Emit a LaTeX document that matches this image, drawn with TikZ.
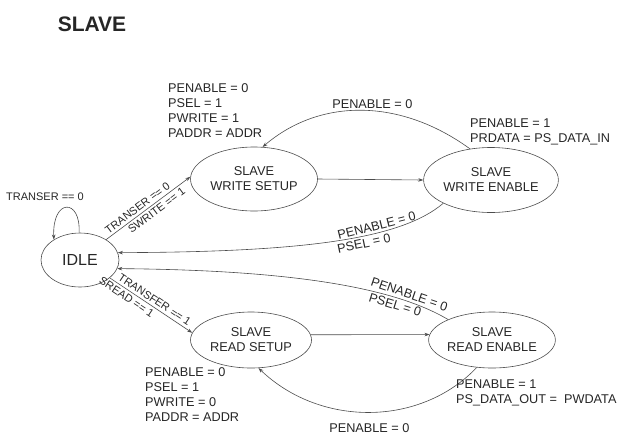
\documentclass[tikz,border=0pt]{standalone}
\usepackage{fontspec}
\setmainfont{Liberation Sans}
\usetikzlibrary{shapes.geometric,arrows.meta}
\definecolor{linec}{gray}{0.3}
\definecolor{txtc}{gray}{0.15}
\begin{document}
\begin{tikzpicture}[x=1pt,y=-1pt,
  state/.style={draw=linec,ellipse,inner sep=0pt,align=center,text=txtc,font=\fontsize{12.8}{15}\selectfont,line width=0.6pt},
  trans/.style={draw=linec,line width=0.6pt,-{Stealth[length=5pt,width=3.5pt]}},
  cond/.style={text=txtc,font=\fontsize{11}{13}\selectfont,inner sep=2.5pt},
  act/.style={text=txtc,font=\fontsize{12.7}{15}\selectfont,align=left,inner sep=0pt,anchor=base west}]
			\useasboundingbox (0,0) rectangle (623,437);
			\node[text=txtc,font=\fontsize{21}{25}\bfseries] (title) at (92,24) {SLAVE};
			\node[state,minimum width=78,minimum height=54,font=\fontsize{16}{19}\selectfont] (idle) at (80,260) {IDLE};
			\node[state,minimum width=127,minimum height=64] (ws) at (254,179) {SLAVE\\WRITE SETUP};
			\node[state,minimum width=120,minimum height=65] (we) at (491,180) {SLAVE\\WRITE ENABLE};
			\node[state,minimum width=121,minimum height=56] (rs) at (251,340) {SLAVE\\READ SETUP};
			\node[state,minimum width=121,minimum height=56] (re) at (492,340) {SLAVE\\READ ENABLE};
			\draw[trans] (idle.92) .. controls (81,198) and (52,198) .. (idle.142);
			\node[cond] (loop) at (45,197) {TRANSER == 0};
			\draw[trans] (idle.38) -- node[cond,sloped,above,pos=0.42]{TRANSER == 0} node[cond,sloped,below,pos=0.55]{SWRITE == 1} (ws.178);
			\draw[trans] (idle.-31) -- node[cond,sloped,above,pos=0.5]{TRANSFER == 1} node[cond,sloped,below,pos=0.25]{SREAD == 1} (rs.173);
			\draw[trans] (ws.east) -- (we.west);
			\draw[trans] (rs.5) -- (re.175);
			\draw[trans] (we.124) .. controls (400,98) and (320,98) .. node[cond,above,pos=0.45,font=\fontsize{12.7}{15}\selectfont]{PENABLE = 0} (ws.75);
			\draw[trans] (we.206) .. controls (400,240) and (300,252) .. node[cond,sloped,above,pos=0.34,font=\fontsize{12.7}{15}\selectfont]{PENABLE = 0} node[cond,sloped,below,pos=0.4,font=\fontsize{12.7}{15}\selectfont]{PSEL = 0} (idle.11);
			\draw[trans] (re.155) .. controls (390,285) and (280,270) .. node[cond,sloped,above,pos=0.2,font=\fontsize{12.7}{15}\selectfont]{PENABLE = 0} node[cond,sloped,below,pos=0.24,font=\fontsize{12.7}{15}\selectfont]{PSEL = 0} (idle.-13);
			\draw[trans] (re.241) .. controls (420,427) and (320,427) .. node[cond,below=9pt,pos=0.5,font=\fontsize{12.7}{15}\selectfont]{PENABLE = 0} (rs.285);
			\node[act] (wsact) at (168,137.5) {PENABLE = 0\\PSEL = 1\\PWRITE = 1\\PADDR = ADDR};
			\node[act] (weact) at (470,142.5) {PENABLE = 1\\PRDATA = PS\_DATA\_IN};
			\node[act] (rsact) at (145,421.5) {PENABLE = 0\\PSEL = 1\\PWRITE = 0\\PADDR = ADDR};
			\node[act] (react) at (456,403.5) {PENABLE = 1\\PS\_DATA\_OUT = \ PWDATA};
		\end{tikzpicture}
\end{document}
